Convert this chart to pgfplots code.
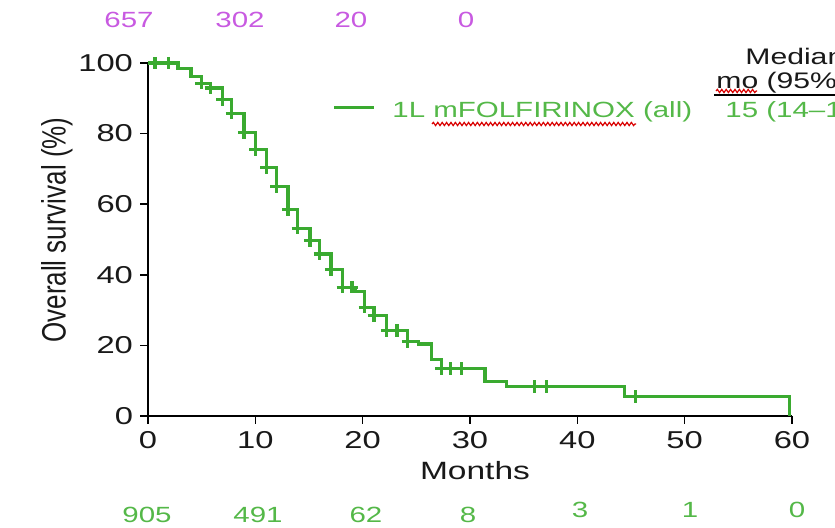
\documentclass[border=0pt]{standalone}
\usepackage{fontspec}
\setmainfont{Liberation Sans}[FakeStretch=1.34]
\newfontfamily\plainsans{Liberation Sans}
\usepackage{pgfplots}
\pgfplotsset{compat=1.18}
\usetikzlibrary{decorations.pathmorphing}
\definecolor{kmgreen}{RGB}{58,170,48}
\definecolor{txtgreen}{RGB}{84,184,72}
\definecolor{riskpurple}{RGB}{200,90,225}
\begin{document}
\begin{tikzpicture}[x=0.5pt,y=0.5pt]
\path[use as bounding box] (0,0) rectangle (835,528);
\clip (0,0) rectangle (835,528);
\begin{axis}[
  at={(74pt,56pt)}, anchor=south west,
  scale only axis, width=322pt, height=176.5pt,
  xmin=0, xmax=60, ymin=0, ymax=100,
  axis x line*=bottom, axis y line*=left,
  axis line style={-, line width=0.75pt, black},
  xtick={0,10,...,60}, ytick={0,20,...,100},
  tick align=outside, major tick length=4pt,
  tick style={line width=0.75pt, black},
  tick label style={font=\fontsize{12.2}{14}\selectfont, text=black!90},
  /pgf/number format/assume math mode=true,
  clip=false,
]
\addplot[const plot, kmgreen, line width=1.6pt] coordinates {
(0,100) (2.8,98.4) (4.0,96.2) (4.95,94.3) (5.85,92.9) (6.95,89.6) (7.8,85.8)
(8.95,80.2) (10.0,75.4) (11.05,70.4) (11.95,65.0) (13.05,58.4) (13.95,53.2)
(15.1,49.7) (16.0,45.9) (17.05,41.4) (18.15,36.5) (19.3,35.3) (20.2,30.8)
(21.05,28.4) (22.25,24.2) (24.2,21.1) (25.2,20.4) (26.4,15.9) (27.35,13.5)
(31.4,9.7) (33.4,8.3) (44.4,5.5) (59.75,5.5) (59.75,0)
};
\addplot[only marks, mark=+, mark size=3.1pt, kmgreen, mark options={line width=1.6pt}] coordinates {
(0.65,100) (1.9,100) (4.95,94.3) (5.85,92.9) (6.95,89.6) (7.8,85.8) (8.95,80.2)
(10.0,75.4) (11.05,70.4) (11.95,65.0) (13.05,58.4) (13.95,53.2) (15.1,49.7)
(16.0,45.9) (17.05,41.4) (18.15,36.5) (19.0,36.5) (20.2,30.8) (21.05,28.4)
(22.25,24.2) (23.2,24.2) (24.2,21.1) (27.35,13.5) (28.2,13.5) (29.2,13.5)
(36.0,8.3) (37.1,8.3) (45.4,5.5)
};
\end{axis}
% axis labels
\node[anchor=base, font=\fontsize{12.5}{14}\selectfont, text=black!90] at (475,48) {Months};
\node[rotate=90, text=black!90] at (57,298) {\plainsans\fontsize{13}{15}\selectfont\scalebox{1}[1.3]{Overall survival (\%)}};
% numbers at risk (top)
\begin{scope}[every node/.style={anchor=base, font=\fontsize{11}{13}\selectfont, text=riskpurple}]
\node at (129,500) {657};
\node at (240,500) {302};
\node at (351,500) {20};
\node at (466,500) {0};
\end{scope}
% numbers at risk (bottom)
\begin{scope}[every node/.style={anchor=base, font=\fontsize{11}{13}\selectfont, text=txtgreen}]
\node at (147,5) {905};
\node at (258,5) {491};
\node at (366,5) {62};
\node at (468,5) {8};
\node at (580,10) {3};
\node at (690,10) {1};
\node at (797,10) {0};
\end{scope}
% legend
\draw[kmgreen, line width=1.5pt] (334,420) -- (374,420);
\node[anchor=base west, inner sep=0, font=\fontsize{11}{13}\selectfont, text=txtgreen] at (392,410) {1L mFOLFIRINOX (all)};
\node[anchor=base west, inner sep=0, font=\fontsize{11}{13}\selectfont, text=txtgreen] at (725,410) {15 (14--18)};
\node[anchor=base west, inner sep=0, font=\fontsize{11.25}{13}\selectfont, text=black!90] at (745,463) {Median};
\node[anchor=base west, inner sep=0, font=\fontsize{11.25}{13}\selectfont, text=black!90] at (716,439) {mo (95\% CI)};
\draw[black, line width=1pt] (714,433) -- (835,433);
\draw[red!85!black, line width=0.6pt, decorate, decoration={snake, amplitude=0.8pt, segment length=2.2pt}] (432,404) -- (636,404);
\draw[red!85!black, line width=0.6pt, decorate, decoration={snake, amplitude=0.8pt, segment length=2.2pt}] (716,437) -- (757,437);
\end{tikzpicture}
\end{document}
